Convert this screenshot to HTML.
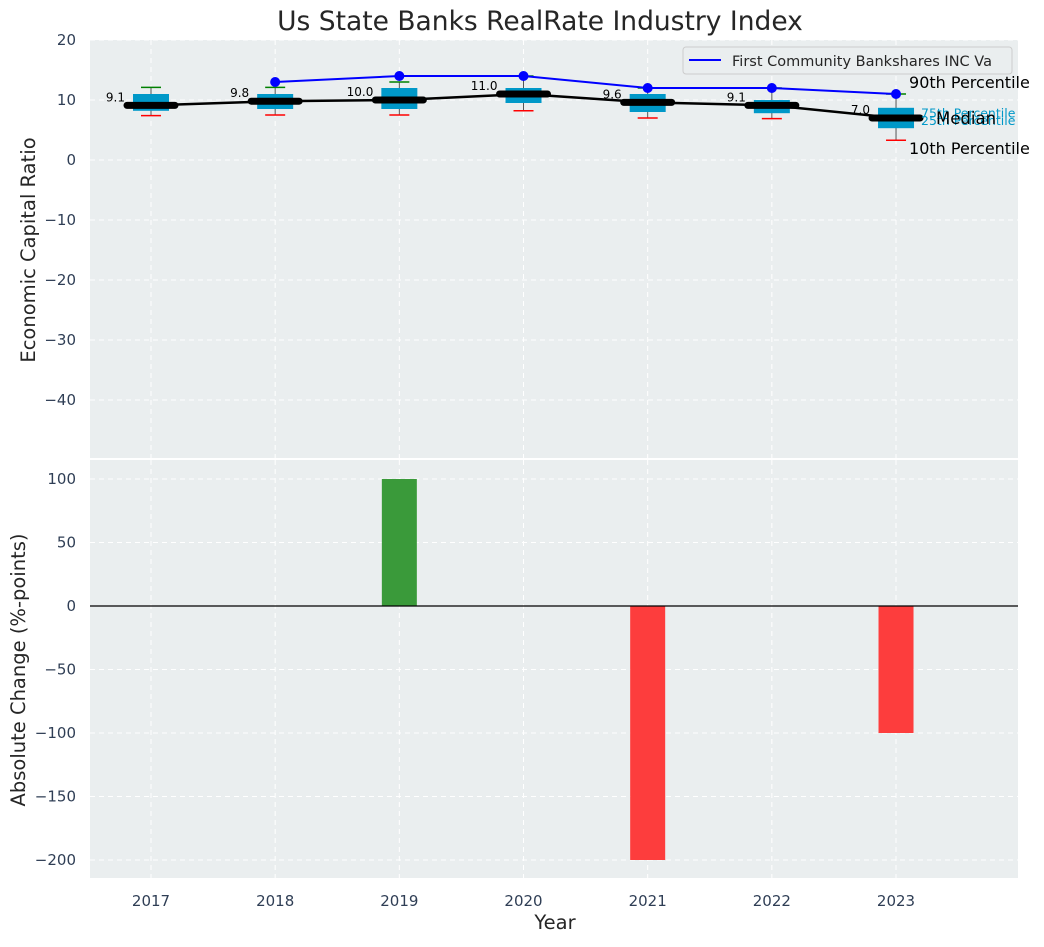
<!DOCTYPE html>
<html><head><meta charset="utf-8"><style>
body{margin:0;background:#fff;font-family:"Liberation Sans","DejaVu Sans",sans-serif}
svg text{font-family:"DejaVu Sans","Liberation Sans",sans-serif}
</style></head><body>
<svg id="c" width="1044" height="942" xmlns="http://www.w3.org/2000/svg"></svg>
<script>
const years=[2017,2018,2019,2020,2021,2022,2023];
const p10=[7.4,7.5,7.5,8.2,7.0,6.9,3.3];
const p25=[8.2,8.5,8.5,9.5,8.0,7.8,5.3];
const med=[9.1,9.8,10.0,11.0,9.6,9.1,7.0];
const p75=[11,11,12,12,11,10,8.7];
const p90=[12.1,12.1,13,14,12,12,11];
const compYears=[2018,2019,2020,2021,2022,2023];
const compVals=[13,14,14,12,12,11];
const changes=[0,0,100,0,-200,0,-100];
const topTicks=[20,10,0,-10,-20,-30,-40];
const botTicks=[100,50,0,-50,-100,-150,-200];

const NS="http://www.w3.org/2000/svg";
const svg=document.getElementById('c');
function el(t,a,txt){const e=document.createElementNS(NS,t);for(const k in a)e.setAttribute(k,a[k]);if(txt!==undefined)e.textContent=txt;svg.appendChild(e);return e;}
const L=90,R=1018;
const x=yr=>151+(yr-2017)*124.17;
const yT=v=>160-6*v;
const yB=v=>606-1.27*v;

let e=el('rect',{x:L,y:40,width:R-L,height:418,fill:'#eaeeef'});

e=el('rect',{x:L,y:460,width:R-L,height:418,fill:'#eaeeef'});


years.forEach(yr=>{
 el('line',{x1:x(yr),x2:x(yr),y1:40,y2:458,stroke:'#fff','stroke-dasharray':'5,4','stroke-width':1});
 el('line',{x1:x(yr),x2:x(yr),y1:460,y2:878,stroke:'#fff','stroke-dasharray':'5,4','stroke-width':1});
 e=el('text',{x:x(yr),y:906,'text-anchor':'middle','font-size':15,fill:'#2f3e55'},yr);
 
});
topTicks.forEach(t=>{
 el('line',{x1:L,x2:R,y1:yT(t),y2:yT(t),stroke:'#fff','stroke-dasharray':'5,4'});
 e=el('text',{x:76,y:yT(t)+5,'text-anchor':'end','font-size':15,fill:'#2f3e55'},t<0?'\u2212'+(-t):t);
 
});
botTicks.forEach(t=>{
 el('line',{x1:L,x2:R,y1:yB(t),y2:yB(t),stroke:'#fff','stroke-dasharray':'5,4'});
 e=el('text',{x:76,y:yB(t)+5,'text-anchor':'end','font-size':15,fill:'#2f3e55'},t<0?'\u2212'+(-t):t);
 
});

years.forEach((yr,i)=>{
 const cx=x(yr);
 el('line',{x1:cx,x2:cx,y1:yT(p90[i]),y2:yT(p10[i]),stroke:'#555','stroke-width':1});
 e=el('rect',{x:cx-18,y:yT(p75[i]),width:36,height:yT(p25[i])-yT(p75[i]),fill:'#0098c8'});
 
 el('line',{x1:cx-10,x2:cx+10,y1:yT(p90[i]),y2:yT(p90[i]),stroke:'green','stroke-width':1.5});
 el('line',{x1:cx-10,x2:cx+10,y1:yT(p10[i]),y2:yT(p10[i]),stroke:'red','stroke-width':1.5});
});
e=el('polyline',{points:years.map((yr,i)=>x(yr)+','+yT(med[i])).join(' '),fill:'none',stroke:'#000','stroke-width':2.5});

years.forEach((yr,i)=>{
 e=el('line',{x1:x(yr)-24,x2:x(yr)+24,y1:yT(med[i]),y2:yT(med[i]),stroke:'#000','stroke-width':7,'stroke-linecap':'round'});
 
 e=el('text',{x:x(yr)-26,y:yT(med[i])-4,'text-anchor':'end','font-size':12,fill:'#000'},med[i].toFixed(1));
 
});
e=el('polyline',{points:compYears.map((yr,i)=>x(yr)+','+yT(compVals[i])).join(' '),fill:'none',stroke:'#0000ff','stroke-width':2});

compYears.forEach((yr,i)=>{
 e=el('circle',{cx:x(yr),cy:yT(compVals[i]),r:5,fill:'#0000ff'});
 
});
const lx=x(2023);
el('text',{x:lx+13,y:yT(p90[6])-6,'font-size':16,fill:'#000'},'90th Percentile');
el('text',{x:lx+25,y:yT(med[6])-0.5,'font-size':12.5,fill:'#0098c8'},'75th Percentile');
el('text',{x:lx+25,y:yT(med[6])+7,'font-size':12.5,fill:'#0098c8'},'25th Percentile');
el('text',{x:lx+40,y:yT(med[6])+6,'font-size':16.5,fill:'#000'},'Median');
el('text',{x:lx+13,y:yT(p10[6])+14,'font-size':16,fill:'#000'},'10th Percentile');

e=el('rect',{x:683,y:47,width:329,height:27,fill:'#eaeeef',stroke:'#ccc',rx:3});

el('line',{x1:689,x2:721,y1:60,y2:60,stroke:'#0000ff','stroke-width':2});
el('text',{x:732,y:66,'font-size':14.5,fill:'#262626'},'First Community Bankshares INC Va');

years.forEach((yr,i)=>{
 const v=changes[i]; if(!v) return;
 e=el('rect',{x:x(yr)-17.5,y:Math.min(yB(v),yB(0)),width:35,height:Math.abs(yB(v)-yB(0)),fill:v>0?'#3a9a3a':'#fd3d3d'});
 
});
el('line',{x1:L,x2:R,y1:yB(0),y2:yB(0),stroke:'#000','stroke-width':1.2});

e=el('text',{x:540,y:30,'text-anchor':'middle','font-size':26.5,fill:'#262626'},'Us State Banks RealRate Industry Index');

e=el('text',{x:555,y:929,'text-anchor':'middle','font-size':19.5,fill:'#262626'},'Year');

e=el('text',{x:0,y:0,'text-anchor':'middle','font-size':19.5,fill:'#262626',transform:'translate(35,250) rotate(-90)'},'Economic Capital Ratio');

e=el('text',{x:0,y:0,'text-anchor':'middle','font-size':19.5,fill:'#262626',transform:'translate(25,670) rotate(-90)'},'Absolute Change (%-points)');

</script>
</body></html>
